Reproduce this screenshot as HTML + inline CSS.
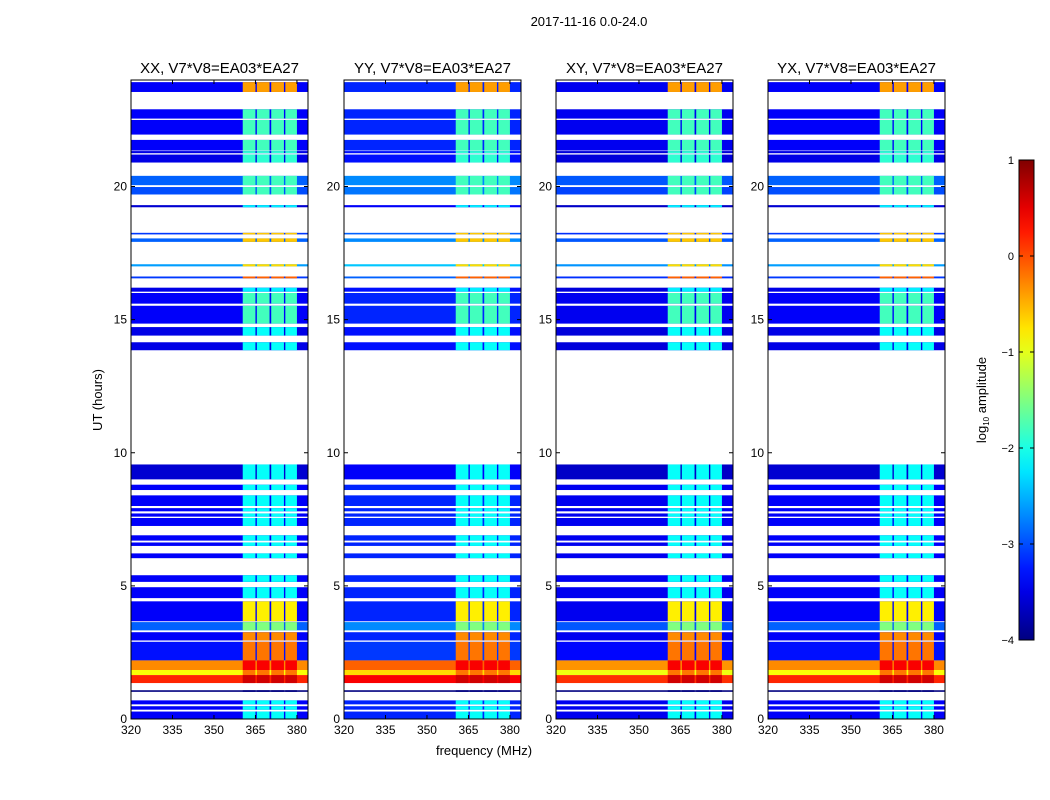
<!DOCTYPE html>
<html><head><meta charset="utf-8">
<style>
html,body{margin:0;padding:0;background:#fff;}
svg{display:block;font-family:"Liberation Sans","DejaVu Sans",sans-serif;}
</style></head>
<body>
<svg id="fig" width="1050" height="800" viewBox="0 0 1050 800" xmlns="http://www.w3.org/2000/svg">
<text x="589" y="26" font-size="13" text-anchor="middle">2017-11-16 0.0-24.0</text>
<text transform="translate(102,400) rotate(-90)" font-size="13" text-anchor="middle">UT (hours)</text>
<text x="484" y="755" font-size="13" text-anchor="middle">frequency (MHz)</text>
<g id="panels"></g>
<g id="cbar"></g>
</svg>
<script>
// time segments (hours)
const segStart = [23.55,22.55,21.95,21.35,20.9,21.25,20.05,19.7,19.22,18.2,17.92,17.0,16.55,16.05,15.6,14.85,14.4,13.85,9.0,8.6,8.0,7.8,7.6,7.25,6.7,6.5,6.04,5.15,4.54,3.67,3.33,2.95,2.2,1.84,1.65,1.35,1.02,0.55,0.35,0.0];
const segEnd   = [23.92,22.9,22.5,21.75,21.2,21.33,20.4,19.98,19.3,18.26,18.05,17.08,16.62,16.2,16.0,15.52,14.72,14.15,9.56,8.8,8.4,7.92,7.72,7.55,6.9,6.63,6.22,5.4,4.95,4.42,3.64,3.26,2.9,2.2,1.84,1.65,1.08,0.7,0.48,0.28];
// log10 amplitude off-band and in-band per segment
const segBase  = [-3.4,-3.4,-3.4,-3.4,-3.5,-3.5,-2.9,-3.0,-3.6,-3.1,-2.9,-2.6,-3.1,-3.5,-3.4,-3.4,-3.5,-3.5,-3.6,-3.4,-3.4,-3.4,-3.4,-3.4,-3.4,-3.4,-3.4,-3.4,-3.4,-3.4,-2.9,-3.4,-3.3,-0.3,-0.9,0.2,-4.0,-3.4,-3.4,-3.4];
const segBand  = [-0.4,-1.8,-1.8,-1.8,-1.9,-1.9,-1.8,-1.8,-2.2,-0.6,-0.6,-0.7,-0.1,-2.2,-1.8,-1.8,-2.1,-2.1,-2.1,-2.1,-2.1,-2.1,-2.1,-2.1,-2.1,-2.1,-2.1,-2.1,-2.1,-0.8,-1.5,-0.3,-0.2,0.4,-0.2,0.6,-4.0,-2.1,-2.1,-2.1];
// RFI bands (MHz)
const bandLo = [360.4,365.5,370.7,375.8];
const bandHi = [365.0,370.1,375.3,380.0];
const panelTitles = ["XX, V7*V8=EA03*EA27","YY, V7*V8=EA03*EA27","XY, V7*V8=EA03*EA27","YX, V7*V8=EA03*EA27"];
const panelLeft = [131,344,556,768];
const panelOffset = [0,0.2,-0.05,0];
const xTicks = [320,335,350,365,380];
const yTicks = [0,5,10,15,20];
const cbTicks = [1,0,-1,-2,-3,-4];
const NS='http://www.w3.org/2000/svg';
const PT=80, PB=719, PW=177, F0=320, F1=384, T0=0, T1=24, VMIN=-4, VMAX=1;
function el(tag, attrs, parent){const e=document.createElementNS(NS,tag);for(const k in attrs)e.setAttribute(k,attrs[k]);parent.appendChild(e);return e;}
function jet(v){let t=(v-VMIN)/(VMAX-VMIN);t=Math.max(0,Math.min(1,t));
 const c=x=>Math.round(255*Math.max(0,Math.min(1,x)));
 const r=c(Math.min(4*t-1.5,-4*t+4.5)),g=c(Math.min(4*t-0.5,-4*t+3.5)),b=c(Math.min(4*t+0.5,-4*t+2.5));
 return `rgb(${r},${g},${b})`;}
const yS=h=>PB-(h-T0)/(T1-T0)*(PB-PT);
const panels=document.getElementById('panels');
panelLeft.forEach((L,p)=>{
 const xS=f=>L+(f-F0)/(F1-F0)*PW;
 const g=el('g',{},panels);
 
 
 for(let i=0;i<segStart.length;i++){
  const y0=yS(segEnd[i]),y1=yS(segStart[i]);
  const base=segBase[i]<=-4?-4:segBase[i]+panelOffset[p];
  const r=el('rect',{x:L,y:y0,width:PW,height:y1-y0,fill:jet(base)},g);
  
  
  for(let b=0;b<bandLo.length;b++){
   const br=el('rect',{x:xS(bandLo[b]),y:y0,width:xS(bandHi[b])-xS(bandLo[b]),height:y1-y0,fill:jet(segBand[i])},g);
   
   
  }
 }
 const fr=el('rect',{x:L,y:PT,width:PW,height:PB-PT,fill:'none',stroke:'#000','stroke-width':1},g);
 
 
 const tt=el('text',{x:L+PW/2,y:73,'font-size':15,'text-anchor':'middle'},g);tt.textContent=panelTitles[p];
 
 
 xTicks.forEach(v=>{const x=xS(v);
  el('line',{x1:x,x2:x,y1:PB,y2:PB-4,stroke:'#000'},g);el('line',{x1:x,x2:x,y1:PT,y2:PT+4,stroke:'#000'},g);
  const t=el('text',{x:x,y:PB+15,'font-size':12,'text-anchor':'middle'},g);t.textContent=v;
  
  });
 yTicks.forEach(v=>{const y=yS(v);
  el('line',{x1:L,x2:L+4,y1:y,y2:y,stroke:'#000'},g);el('line',{x1:L+PW,x2:L+PW-4,y1:y,y2:y,stroke:'#000'},g);
  const t=el('text',{x:L-4,y:y+4,'font-size':12,'text-anchor':'end'},g);t.textContent=v;
  
  });
});
// colorbar
const cb=document.getElementById('cbar');
const CX=1019,CW=15,CT=160,CB=640;
const cyS=v=>CB-(v-VMIN)/(VMAX-VMIN)*(CB-CT);
const defs=el('defs',{},cb);const lg=el('linearGradient',{id:'jetg',x1:0,y1:1,x2:0,y2:0},defs);
for(let i=0;i<=20;i++){el('stop',{offset:i/20,'stop-color':jet(VMIN+(VMAX-VMIN)*i/20)},lg);}
const cr=el('rect',{x:CX,y:CT,width:CW,height:CB-CT,fill:'url(#jetg)',stroke:'#000'},cb);


cbTicks.forEach(v=>{const y=cyS(v);
 el('line',{x1:CX,x2:CX+4,y1:y,y2:y,stroke:'#000'},cb);el('line',{x1:CX+CW,x2:CX+CW-4,y1:y,y2:y,stroke:'#000'},cb);
 const t=el('text',{x:CX-5,y:y+4,'font-size':11,'text-anchor':'end'},cb);t.textContent=(v<0?'\u2212'+(-v):v);
 
 });
const cl=el('text',{transform:'translate(986,400) rotate(-90)','font-size':13,'text-anchor':'middle'},cb);


cl.innerHTML='log<tspan font-size="8" dy="3">10</tspan><tspan dy="-3"> amplitude</tspan>';
</script>
</body></html>
